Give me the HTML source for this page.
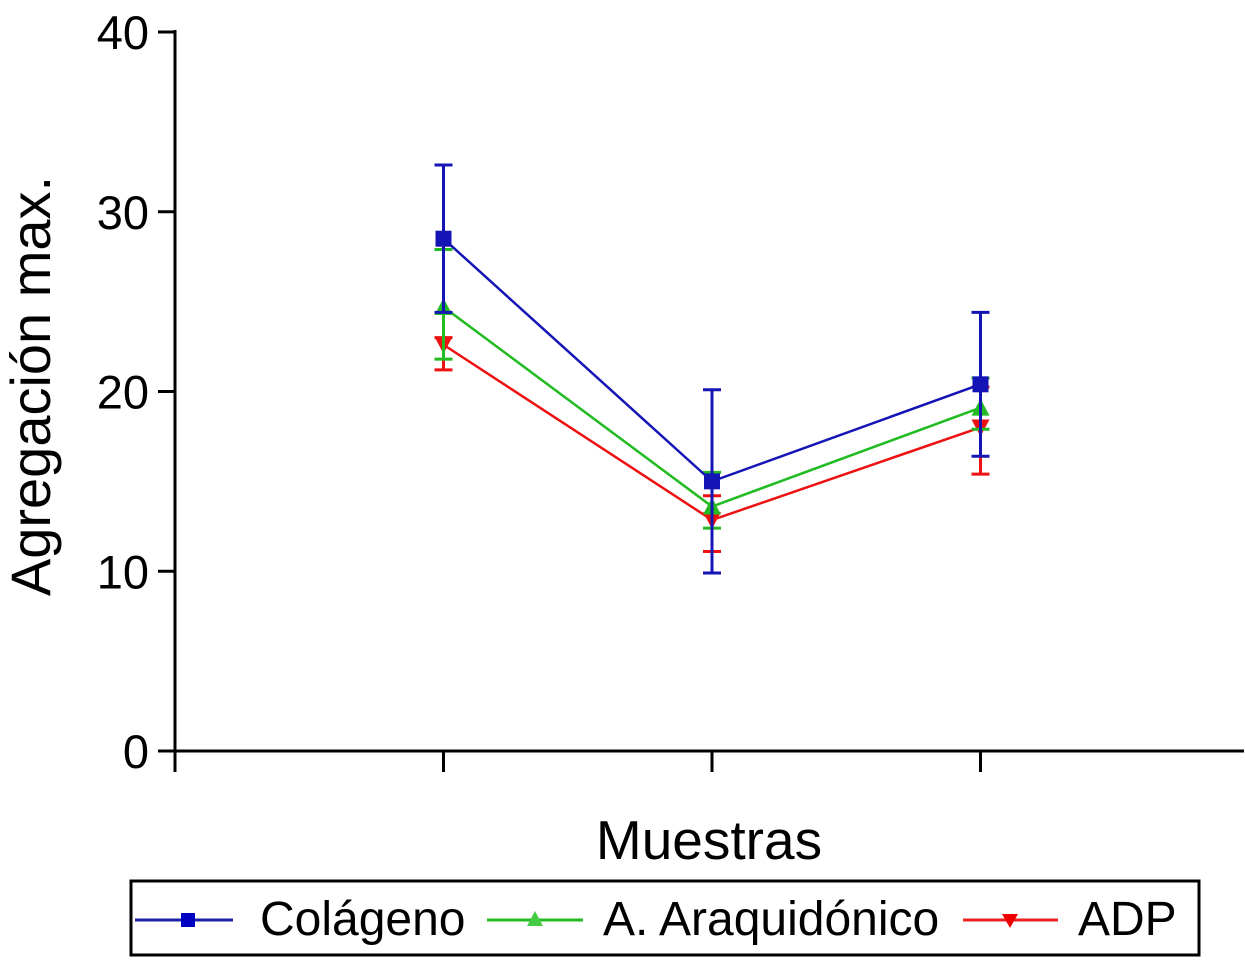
<!DOCTYPE html>
<html><head><meta charset="utf-8"><style>
body{margin:0;background:#fff}
svg text{font-family:"Liberation Sans",sans-serif;fill:#000}
</style></head><body>
<svg width="1245" height="958" xmlns="http://www.w3.org/2000/svg">
<g id="axes"></g><g id="plot"></g>
<g>
<rect x="131" y="881" width="1068" height="74" fill="none" stroke="#000" stroke-width="3"/>
<line x1="135" y1="920" x2="233" y2="920" stroke="#1f1fb0" stroke-width="3"/>
<rect x="181" y="913" width="14" height="14" fill="#0000c0"/>
<text x="260" y="935" font-size="48">Colágeno</text>
<line x1="487" y1="920" x2="583" y2="920" stroke="#22bb22" stroke-width="3"/>
<polygon points="535,911 543,926 527,926" fill="#44cc44"/>
<text x="603" y="935" font-size="48">A. Araquidónico</text>
<line x1="963" y1="920" x2="1058" y2="920" stroke="#ee2222" stroke-width="3"/>
<polygon points="1002,914 1018,914 1010,928" fill="#ee0000"/>
<text x="1078" y="935" font-size="48">ADP</text>
</g>
<text x="709" y="859" font-size="55" text-anchor="middle">Muestras</text>
<text transform="translate(50,386) rotate(-90)" font-size="56" text-anchor="middle">Agregación max.</text>
</svg>
<script>
const categories=[1,2,3];
const yTicks=[0,10,20,30,40];
const colMean=[28.5,15.0,20.4], colHi=[32.6,20.1,24.4], colLo=[24.4,9.9,16.4];
const araMean=[24.7,13.6,19.1], araHi=[27.9,15.5,20.75], araLo=[21.8,12.4,17.9];
const adpMean=[22.6,12.85,18.0], adpHi=[23.0,14.2,20.25], adpLo=[21.2,11.1,15.4];
const NS="http://www.w3.org/2000/svg";
const y=v=>751-v*17.975;
const x=i=>175+(i+1)*268.5;
function mk(tag,attrs,parent){const e=document.createElementNS(NS,tag);for(const k in attrs)e.setAttribute(k,attrs[k]);parent.appendChild(e);return e;}
const axes=document.getElementById('axes'),plot=document.getElementById('plot');
let e=mk('line',{x1:175,y1:30,x2:175,y2:752,stroke:'#000','stroke-width':3},axes);


e=mk('line',{x1:174,y1:751,x2:1244,y2:751,stroke:'#000','stroke-width':3},axes);


yTicks.forEach(t=>{
 mk('line',{x1:158,y1:y(t),x2:175,y2:y(t),stroke:'#000','stroke-width':3},axes);
 const tx=mk('text',{x:149,y:y(t)+17,'font-size':47,'text-anchor':'end'},axes);
 tx.textContent=t;
 
 
});
for(let i=-1;i<=categories.length;i++){mk('line',{x1:x(i),y1:751,x2:x(i),y2:772,stroke:'#000','stroke-width':3},axes);}
function series(name,mean,hi,lo,color,marker){
 const g=mk('g',{},plot);
 
 
 mk('polyline',{points:mean.map((v,i)=>x(i)+','+y(v)).join(' '),fill:'none',stroke:color,'stroke-width':2.5},g);
 mean.forEach((v,i)=>{
  const cx=x(i);
  mk('line',{x1:cx,y1:y(hi[i]),x2:cx,y2:y(lo[i]),stroke:color,'stroke-width':3},g);
  mk('line',{x1:cx-9,y1:y(hi[i]),x2:cx+9,y2:y(hi[i]),stroke:color,'stroke-width':3},g);
  mk('line',{x1:cx-9,y1:y(lo[i]),x2:cx+9,y2:y(lo[i]),stroke:color,'stroke-width':3},g);
  let m;const cy=y(v);
  if(marker==='sq')m=mk('rect',{x:cx-8,y:cy-8,width:16,height:16,fill:color},g);
  else if(marker==='up')m=mk('polygon',{points:`${cx},${cy-9} ${cx+9},${cy+8} ${cx-9},${cy+8}`,fill:color},g);
  else m=mk('polygon',{points:`${cx-9},${cy-8} ${cx+9},${cy-8} ${cx},${cy+9}`,fill:color},g);
  
  
 });
}
series('adp',adpMean,adpHi,adpLo,'#ee1111','down');
series('araquidonico',araMean,araHi,araLo,'#22bb22','up');
series('colageno',colMean,colHi,colLo,'#1515b5','sq');
</script>
</body></html>
